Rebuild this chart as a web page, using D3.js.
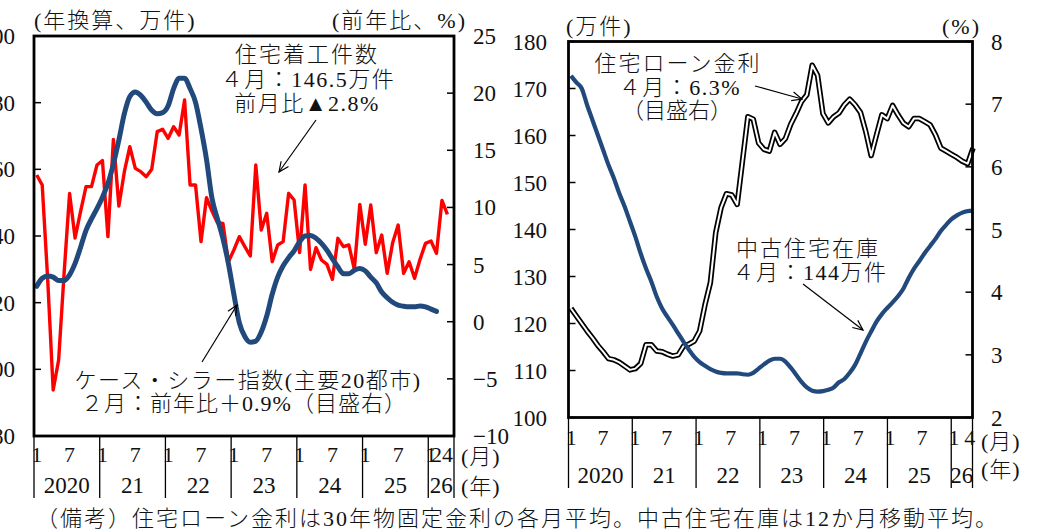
<!DOCTYPE html>
<html>
<head>
<meta charset="utf-8">
<script src="https://cdn.jsdelivr.net/npm/d3@7"></script>
<style>
  html, body { margin: 0; padding: 0; background: #fff; }
  svg { display: block; font-family: "Liberation Serif", "Noto Sans CJK JP", serif; font-weight: 300; }
</style>
</head>
<body>
<svg id="chart" width="1051" height="532"></svg>
<script>
// ---- data: monthly, Jan 2020 – Apr 2026 ----
const years = ["2020", "21", "22", "23", "24", "25", "26"];
const monthsInYear = [12, 12, 12, 12, 12, 12, 4];
const monthMarks = ["1", "7"];          // month numbers labelled in full years
const leftLastYearMarks = ["1", "2", "4"];
const rightLastYearMarks = ["1", "4"];

// housing starts, annualised (10k units)
const housingStarts = [
  158.3, 155.3, 127.0, 93.8, 102.8, 128.9, 152.8, 139.4, 147.3, 154.8, 154.8, 161.3,
  162.6, 139.8, 169.0, 149.0, 159.3, 166.8, 160.3, 159.3, 157.8, 160.0, 171.3, 172.0,
  169.3, 172.8, 170.3, 180.8, 155.3, 155.3, 138.3, 151.5, 147.5, 144.0, 143.8, 132.3,
  135.8, 139.8, 136.8, 134.0, 161.3, 141.8, 146.8, 132.3, 137.3, 138.3, 152.8, 150.8,
  135.0, 155.3, 130.0, 136.5, 132.8, 131.5, 127.0, 139.3, 136.8, 137.3, 130.0, 149.5,
  137.5, 149.3, 135.0, 140.3, 128.8, 138.0, 143.3, 128.8, 132.3, 127.3, 133.0, 137.8,
  138.5, 134.8, 150.7, 146.5
];
// Case-Shiller 20-city index, y/y % (through Feb 2026)
const caseShillerYoY = [
  3.1, 3.8, 4.0, 3.9, 3.6, 3.6, 4.1, 5.1, 6.5, 8.0, 9.0, 9.9,
  10.9, 12.1, 13.8, 15.9, 18.2, 19.7, 20.1, 19.8, 19.2, 18.5, 18.2, 18.3,
  18.9, 20.4, 21.3, 21.3, 20.4, 19.2, 16.9, 14.2, 10.8, 9.0, 7.3, 5.1,
  2.4, -0.1, -1.3, -1.8, -1.7, -0.9, 0.5, 2.4, 3.9, 4.9, 5.6, 6.2,
  7.0, 7.5, 7.55, 7.3, 6.85, 6.25, 5.5, 4.8, 4.2, 4.2, 4.5, 4.65,
  4.45, 3.9, 3.4, 2.6, 2.1, 1.7, 1.45, 1.35, 1.3, 1.3, 1.38, 1.3,
  1.1, 0.9
];
// 30-year fixed mortgage rate, monthly average (%)
const mortgageRate = [
  3.74, 3.62, 3.50, 3.38, 3.27, 3.15, 3.05, 2.94, 2.92, 2.88, 2.82, 2.76,
  2.78, 2.86, 3.16, 3.16, 3.06, 3.05, 3.01, 2.98, 3.00, 3.14, 3.17, 3.22,
  3.38, 3.80, 4.15, 4.95, 5.35, 5.57, 5.55, 5.40, 6.10, 6.80, 6.76, 6.38,
  6.28, 6.25, 6.55, 6.36, 6.45, 6.68, 6.85, 7.04, 7.15, 7.62, 7.46, 6.85,
  6.70, 6.80, 6.86, 6.99, 7.08, 6.99, 6.87, 6.56, 6.18, 6.51, 6.83, 6.77,
  6.98, 6.83, 6.70, 6.64, 6.77, 6.77, 6.72, 6.67, 6.51, 6.30, 6.25, 6.20,
  6.15, 6.09, 6.05, 6.30
];
// existing-home inventory, 12-month moving average (10k units)
const existingInventory = [
  172.7, 171.3, 170.0, 166.5, 163.3, 160.1, 156.9, 153.7, 150.9, 147.7, 144.9, 141.7,
  138.5, 134.9, 131.7, 128.9, 125.7, 123.2, 121.4, 119.7, 117.9, 116.1, 114.4, 112.9,
  111.8, 111.0, 110.3, 109.8, 109.5, 109.4, 109.4, 109.4, 109.2, 109.1, 109.5, 110.4,
  111.3, 112.1, 112.5, 112.5, 111.9, 110.6, 109.1, 107.6, 106.4, 105.7, 105.5, 105.6,
  105.9, 106.4, 107.5, 108.2, 109.5, 111.2, 113.6, 116.1, 118.3, 120.4, 122.0, 123.3,
  124.5, 125.8, 127.4, 129.7, 131.7, 133.3, 135.0, 136.5, 138.0, 139.7, 141.0, 142.2,
  143.0, 143.6, 143.9, 144.0
];

// axis ticks
const startsTicks = [200, 180, 160, 140, 120, 100, 80];
const yoyTicks = [25, 20, 15, 10, 5, 0, -5, -10];
const inventoryTicks = [180, 170, 160, 150, 140, 130, 120, 110, 100];
const rateTicks = [8, 7, 6, 5, 4, 3, 2];

const NAVY = "#22497c", RED = "#ff0000";
const fmt = v => (v < 0 ? "\u2212" + Math.abs(v) : String(v));

const svg = d3.select("#chart");

const defs = svg.append("defs");
defs.append("marker")
  .attr("id", "arrowhead")
  .attr("viewBox", "-11 -6 12 12")
  .attr("refX", 0).attr("refY", 0)
  .attr("markerWidth", 12).attr("markerHeight", 12)
  .attr("markerUnits", "userSpaceOnUse")
  .attr("orient", "auto")
  .append("path")
  .attr("d", "M-10,-4.5L0,0L-10,4.5")
  .attr("fill", "none").attr("stroke", "#000").attr("stroke-width", 1.2);

function label(g, text, x, y, opts = {}) {
  return g.append("text")
    .attr("x", x).attr("y", y)
    .attr("text-anchor", opts.anchor || "start")
    .attr("font-size", opts.size || 22)
    .attr("letter-spacing", opts.ls != null ? opts.ls : 0)
    .attr("fill", "#111")
    .text(text);
}
function arrow(g, x1, y1, x2, y2) {
  g.append("line")
    .attr("x1", x1).attr("y1", y1).attr("x2", x2).attr("y2", y2)
    .attr("stroke", "#000").attr("stroke-width", 1.2)
    .attr("marker-end", "url(#arrowhead)");
}
// month index of the first month of year k
const yearStart = k => d3.sum(monthsInYear.slice(0, k));

// ================= left panel: housing starts & Case-Shiller =================
{
  const g = svg.append("g");
  const x = d3.scaleLinear().domain([-0.5, 76.2]).range([34, 454]);
  const yL = d3.scaleLinear().domain([80, 200]).range([436, 36]);
  const yR = d3.scaleLinear().domain([-10, 25]).range([436, 36]);
  const [x0, x1] = x.range();
  const [yb, yt] = yL.range();

  // left axis ticks (inside) + labels
  g.selectAll(".tl").data(startsTicks).join("line")
    .attr("x1", x0).attr("x2", x0 + 7)
    .attr("y1", d => yL(d)).attr("y2", d => yL(d))
    .attr("stroke", "#000").attr("stroke-width", 1.5);
  g.selectAll(".ll").data(startsTicks).join("text")
    .attr("x", 15).attr("y", d => yL(d) + 8)
    .attr("text-anchor", "end").attr("font-size", 23).attr("fill", "#111")
    .text(d => d);

  // right axis ticks (inside) + labels
  g.selectAll(".tr").data(yoyTicks).join("line")
    .attr("x1", x1 - 7).attr("x2", x1)
    .attr("y1", d => yR(d)).attr("y2", d => yR(d))
    .attr("stroke", "#000").attr("stroke-width", 1.5);
  g.selectAll(".lr").data(yoyTicks).join("text")
    .attr("x", 473).attr("y", d => yR(d) + 8)
    .attr("text-anchor", "start").attr("font-size", 23).attr("fill", "#111")
    .text(fmt);

  // series
  g.append("path").datum(housingStarts)
    .attr("d", d3.line().x((d, i) => x(i)).y(d => yL(d)))
    .attr("fill", "none").attr("stroke", RED).attr("stroke-width", 3.4)
    .attr("stroke-linejoin", "round");
  g.append("path").datum(caseShillerYoY)
    .attr("d", d3.line().x((d, i) => x(i)).y(d => yR(d)).curve(d3.curveMonotoneX))
    .attr("fill", "none").attr("stroke", NAVY).attr("stroke-width", 5)
    .attr("stroke-linejoin", "round").attr("stroke-linecap", "round");

  // frame
  g.append("rect").attr("x", x0).attr("y", yt).attr("width", x1 - x0).attr("height", yb - yt)
    .attr("fill", "none").attr("stroke", "#000").attr("stroke-width", 2.8);

  // category axis: year separators, month numbers, years
  const bounds = years.map((y, k) => x(yearStart(k) - 0.5)).concat([x1]);
  g.selectAll(".ys").data(bounds).join("line")
    .attr("x1", d => d).attr("x2", d => d).attr("y1", yb).attr("y2", 498)
    .attr("stroke", "#000").attr("stroke-width", 1.3);
  years.forEach((yr, k) => {
    const marks = k < years.length - 1 ? monthMarks : leftLastYearMarks;
    marks.forEach(m => label(g, m, x(yearStart(k) + (+m) - 1), 462, { anchor: "middle", size: 22 }));
    label(g, yr, (bounds[k] + bounds[k + 1]) / 2, 493, { anchor: "middle", size: 23 });
  });
  label(g, "(月)", 461, 464, { ls: 1 });
  label(g, "(年)", 461, 494, { ls: 1 });

  // unit captions
  label(g, "(年換算、万件)", 34, 28, { ls: 2 });
  label(g, "(前年比、%)", 332, 28, { ls: 2 });

  // annotations
  label(g, "住宅着工件数", 307, 62, { anchor: "middle", ls: 2 });
  label(g, "４月：146.5万件", 308, 87, { anchor: "middle", ls: 1.5 });
  label(g, "前月比▲2.8%", 307, 111, { anchor: "middle", ls: 1.5 });
  arrow(g, 316, 120, 279, 172);

  label(g, "ケース・シラー指数(主要20都市)", 248, 388, { anchor: "middle", ls: 1.5 });
  label(g, "２月：前年比＋0.9%（目盛右）", 244, 411, { anchor: "middle", ls: 1 });
  arrow(g, 202, 362, 237, 305);
}

// ================= right panel: inventory & mortgage rate =================
{
  const g = svg.append("g");
  // month slots for the category axis, and point positions spread edge to edge
  const xAxis = d3.scaleLinear().domain([-0.5, 75.5]).range([568.5, 972.5]);
  const xPt = d3.scaleLinear().domain([0, 75]).range([571, 973]);
  const yInv = d3.scaleLinear().domain([100, 180]).range([417.5, 41.5]);
  const yRate = d3.scaleLinear().domain([2, 8]).range([417.5, 41.5]);
  const [x0, x1] = xAxis.range();
  const [yb, yt] = yInv.range();

  g.selectAll(".tl").data(inventoryTicks).join("line")
    .attr("x1", x0).attr("x2", x0 + 7)
    .attr("y1", d => yInv(d)).attr("y2", d => yInv(d))
    .attr("stroke", "#000").attr("stroke-width", 1.5);
  g.selectAll(".ll").data(inventoryTicks).join("text")
    .attr("x", 547).attr("y", d => yInv(d) + 8)
    .attr("text-anchor", "end").attr("font-size", 23).attr("fill", "#111")
    .text(d => d);

  g.selectAll(".tr").data(rateTicks).join("line")
    .attr("x1", x1 - 7).attr("x2", x1)
    .attr("y1", d => yRate(d)).attr("y2", d => yRate(d))
    .attr("stroke", "#000").attr("stroke-width", 1.5);
  g.selectAll(".lr").data(rateTicks).join("text")
    .attr("x", 991).attr("y", d => yRate(d) + 8)
    .attr("text-anchor", "start").attr("font-size", 23).attr("fill", "#111")
    .text(d => d);

  // mortgage rate: double line (black casing, white core)
  const rateLine = d3.line().x((d, i) => xPt(i)).y(d => yRate(d));
  g.append("path").datum(mortgageRate).attr("d", rateLine)
    .attr("fill", "none").attr("stroke", "#000").attr("stroke-width", 5.5)
    .attr("stroke-linejoin", "round");
  g.append("path").datum(mortgageRate).attr("d", rateLine)
    .attr("fill", "none").attr("stroke", "#fff").attr("stroke-width", 2)
    .attr("stroke-linejoin", "round");

  g.append("path").datum(existingInventory)
    .attr("d", d3.line().x((d, i) => xPt(i)).y(d => yInv(d)).curve(d3.curveMonotoneX))
    .attr("fill", "none").attr("stroke", NAVY).attr("stroke-width", 4.2)
    .attr("stroke-linejoin", "round");

  g.append("rect").attr("x", x0).attr("y", yt).attr("width", x1 - x0).attr("height", yb - yt)
    .attr("fill", "none").attr("stroke", "#000").attr("stroke-width", 2.8);

  const bounds = years.map((y, k) => xAxis(yearStart(k) - 0.5)).concat([x1]);
  g.selectAll(".ys").data(bounds).join("line")
    .attr("x1", d => d).attr("x2", d => d).attr("y1", yb).attr("y2", 488)
    .attr("stroke", "#000").attr("stroke-width", 1.3);
  years.forEach((yr, k) => {
    const marks = k < years.length - 1 ? monthMarks : rightLastYearMarks;
    marks.forEach(m => label(g, m, xAxis(yearStart(k) + (+m) - 1), 445, { anchor: "middle", size: 22 }));
    label(g, yr, (bounds[k] + bounds[k + 1]) / 2, 483, { anchor: "middle", size: 23 });
  });
  label(g, "(月)", 981, 449, { ls: 1 });
  label(g, "(年)", 981, 477, { ls: 1 });

  label(g, "(万件)", 566, 34, { ls: 2 });
  label(g, "(%)", 942, 34, { ls: 2 });

  label(g, "住宅ローン金利", 678, 71, { anchor: "middle", ls: 2 });
  label(g, "４月：6.3%", 680, 95, { anchor: "middle", ls: 1.5 });
  label(g, "（目盛右）", 677, 118, { anchor: "middle", ls: 0 });
  arrow(g, 755, 86, 802, 99);

  label(g, "中古住宅在庫", 808, 256, { anchor: "middle", ls: 2 });
  label(g, "４月：144万件", 810, 280, { anchor: "middle", ls: 1.5 });
  arrow(g, 803, 284, 863, 330);
}

// footnote
label(svg, "（備考）住宅ローン金利は30年物固定金利の各月平均。中古住宅在庫は12か月移動平均。", 36, 526, { ls: 2 });
</script>
</body>
</html>
